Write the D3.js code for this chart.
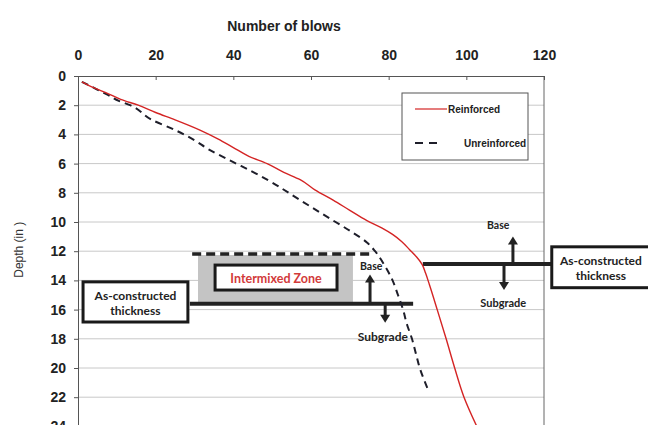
<!DOCTYPE html>
<html>
<head>
<meta charset="utf-8">
<script src="https://cdn.jsdelivr.net/npm/d3@7"></script>
<style>
  body { margin: 0; background: #fff; }
  svg { display: block; }
</style>
</head>
<body>
<div id="content"></div>
<script>
// Data (blows vs depth in inches)
const reinforcedBlows = [1, 4, 7.7, 11, 15.5, 20, 25, 31.4, 36, 40, 44, 48.7, 53, 57.2, 61, 65.7, 70, 74.4, 78.2, 81, 83.4, 85.4, 87.2, 88.6, 89.5, 90.5, 92.5, 94.8, 97, 99.4, 102.7];
const reinforcedDepth = [0.4, 0.8, 1.2, 1.6, 2.0, 2.5, 3.0, 3.7, 4.3, 4.9, 5.5, 6.0, 6.6, 7.1, 7.8, 8.5, 9.2, 9.9, 10.4, 10.85, 11.35, 11.9, 12.4, 12.9, 13.5, 14.3, 16, 18, 20, 22, 24];

const unreinforcedBlows = [1, 4, 7.7, 10.5, 13.4, 19, 25, 30, 33.5, 40, 44.5, 48.7, 57.2, 65.7, 70, 74.4, 76.5, 79, 81, 82.4, 83.7, 84.7, 86, 87, 88, 89.4, 90];
const unreinforcedDepth = [0.4, 0.8, 1.3, 1.7, 2.0, 3.0, 3.7, 4.4, 5.0, 5.9, 6.5, 7.1, 8.5, 9.9, 10.6, 11.4, 12.0, 13.0, 14.0, 15.0, 16.0, 17.0, 18.0, 19.0, 20.0, 21.0, 21.4];

const xTicks = [0, 20, 40, 60, 80, 100, 120];
const yTicks = [0, 2, 4, 6, 8, 10, 12, 14, 16, 18, 20, 22, 24];

const legendLabels = ['Reinforced', 'Unreinforced'];

document.addEventListener('DOMContentLoaded', () => {
    drawChart();
});

const drawChart = () => {
    const width = 648;
    const height = 425;
    const left = 78, right = 544, top = 76, bottom = 426.4;

    const xScale = d3.scaleLinear().domain([0, 120]).range([left, right]);
    const yScale = d3.scaleLinear().domain([0, 24]).range([top, bottom]);

    const svg = d3.select('#content')
        .append('svg')
        .attr('width', width)
        .attr('height', height)
        .style('font-family', '"Liberation Sans", Arial, sans-serif');

    // Gridlines
    svg.append('g')
        .selectAll('line')
        .data(yTicks.slice(1))
        .enter()
        .append('line')
        .attr('x1', left)
        .attr('x2', right)
        .attr('y1', d => yScale(d))
        .attr('y2', d => yScale(d))
        .attr('stroke', '#c8c8c8')
        .attr('stroke-width', 1);

    // Right border
    svg.append('line')
        .attr('x1', right).attr('x2', right)
        .attr('y1', top).attr('y2', height)
        .attr('stroke', '#666')
        .attr('stroke-width', 1);

    // Top axis
    const xAxis = d3.axisTop(xScale).tickValues(xTicks).tickSize(-4).tickPadding(16);
    const gx = svg.append('g')
        .attr('transform', `translate(0, ${top})`)
        .call(xAxis);
    gx.select('.domain').attr('stroke', '#555');
    gx.selectAll('.tick line').attr('stroke', '#555');
    gx.selectAll('.tick text')
        .attr('fill', '#222')
        .style('font-family', '"Liberation Sans Narrow", "Liberation Sans", sans-serif')
        .style('font-size', '14px')
        .style('font-weight', 'bold');

    // Left axis
    const yAxis = d3.axisLeft(yScale).tickValues(yTicks).tickSize(4).tickPadding(8);
    const gy = svg.append('g')
        .attr('transform', `translate(${left}, 0)`)
        .call(yAxis);
    gy.select('.domain').attr('stroke', '#555');
    gy.selectAll('.tick line').attr('stroke', '#555');
    gy.selectAll('.tick text')
        .attr('fill', '#222')
        .style('font-size', '14px')
        .style('font-weight', 'bold');

    // Axis titles
    svg.append('text')
        .attr('x', 284)
        .attr('y', 31)
        .attr('text-anchor', 'middle')
        .attr('fill', '#222')
        .style('font-family', '"Liberation Sans Narrow", "Liberation Sans", sans-serif')
        .style('font-size', '14px')
        .style('font-weight', 'bold')
        .text('Number of blows');

    svg.append('text')
        .attr('transform', `translate(23, ${yScale(11.9)}) rotate(-90)`)
        .attr('text-anchor', 'middle')
        .attr('fill', '#333')
        .style('font-size', '12px')
        .text('Depth (in )');

    // Annotation: left side (unreinforced)
    const ann = svg.append('g');

    ann.append('rect')
        .attr('x', xScale(30.9)).attr('y', yScale(12.26))
        .attr('width', xScale(70.8) - xScale(30.9))
        .attr('height', yScale(15.48) - yScale(12.26))
        .attr('fill', '#c4c4c4');

    ann.append('line')
        .attr('x1', xScale(29.4)).attr('x2', xScale(75.7))
        .attr('y1', yScale(12.2)).attr('y2', yScale(12.2))
        .attr('stroke', '#222')
        .attr('stroke-width', 3.5)
        .attr('stroke-dasharray', '9,5');

    ann.append('rect')
        .attr('x', xScale(35.3)).attr('y', yScale(12.95))
        .attr('width', xScale(66.7) - xScale(35.3))
        .attr('height', yScale(14.66) - yScale(12.95))
        .attr('fill', '#fff')
        .attr('stroke', '#1a1a1a')
        .attr('stroke-width', 3);

    ann.append('text')
        .attr('x', xScale(51))
        .attr('y', yScale(14.2))
        .attr('text-anchor', 'middle')
        .attr('fill', '#d23a3a')
        .style('font-family', 'Lato, sans-serif')
        .style('font-size', '12.5px')
        .style('font-weight', 'bold')
        .text('Intermixed Zone');

    // Curves
    const line = d3.line()
        .x(d => xScale(d[0]))
        .y(d => yScale(d[1]))
        .curve(d3.curveMonotoneY);

    svg.append('path')
        .datum(unreinforcedBlows.map((b, i) => [b, unreinforcedDepth[i]]))
        .attr('d', line)
        .attr('fill', 'none')
        .attr('stroke', '#1e1e2a')
        .attr('stroke-width', 2)
        .attr('stroke-dasharray', '7,5');

    svg.append('path')
        .datum(reinforcedBlows.map((b, i) => [b, reinforcedDepth[i]]))
        .attr('d', line)
        .attr('fill', 'none')
        .attr('stroke', '#d42424')
        .attr('stroke-width', 1.4);

    // Thickness lines
    ann.append('line')
        .attr('x1', xScale(28.8)).attr('x2', xScale(86.3))
        .attr('y1', yScale(15.6)).attr('y2', yScale(15.6))
        .attr('stroke', '#222')
        .attr('stroke-width', 4);

    ann.append('line')
        .attr('x1', xScale(88.8)).attr('x2', xScale(122))
        .attr('y1', yScale(12.88)).attr('y2', yScale(12.88))
        .attr('stroke', '#222')
        .attr('stroke-width', 4);

    // Boxes with "As-constructed thickness"
    const addBox = (b0, b1, d0, d1) => {
        const g = ann.append('g');
        g.append('rect')
            .attr('x', xScale(b0)).attr('y', yScale(d0))
            .attr('width', xScale(b1) - xScale(b0))
            .attr('height', yScale(d1) - yScale(d0))
            .attr('fill', '#fff')
            .attr('stroke', '#1a1a1a')
            .attr('stroke-width', 3);
        const cx = (xScale(b0) + Math.min(xScale(b1), 648 + 2)) / 2;
        const cy = (yScale(d0) + yScale(d1)) / 2;
        g.append('text')
            .attr('x', cx).attr('y', cy - 2)
            .attr('text-anchor', 'middle')
            .attr('fill', '#222')
            .style('font-family', 'Lato, sans-serif')
            .style('font-size', '12px')
            .style('font-weight', 'bold')
            .text('As-constructed');
        g.append('text')
            .attr('x', cx).attr('y', cy + 13)
            .attr('text-anchor', 'middle')
            .attr('fill', '#222')
            .style('font-family', 'Lato, sans-serif')
            .style('font-size', '12px')
            .style('font-weight', 'bold')
            .text('thickness');
    };
    addBox(1.3, 28.3, 14.1, 16.85);
    addBox(122, 148, 11.7, 14.5);

    // Arrows
    const arrow = (b, d0, d1) => {
        const x = xScale(b), y0 = yScale(d0), y1 = yScale(d1);
        const dir = y1 < y0 ? 1 : -1;
        ann.append('line')
            .attr('x1', x).attr('x2', x)
            .attr('y1', y0).attr('y2', y1 + dir * 6)
            .attr('stroke', '#222')
            .attr('stroke-width', 3);
        ann.append('path')
            .attr('d', `M${x - 5},${y1 + dir * 8}L${x + 5},${y1 + dir * 8}L${x},${y1}Z`)
            .attr('fill', '#222');
    };
    arrow(75.2, 15.6, 13.6);
    arrow(79.1, 15.6, 16.9);
    arrow(112, 12.88, 11.0);
    arrow(109.7, 12.88, 14.65);

    const label = (txt, b, d, size) => {
        ann.append('text')
            .attr('x', xScale(b)).attr('y', yScale(d))
            .attr('text-anchor', 'middle')
            .attr('fill', '#222')
            .style('font-family', 'Lato, sans-serif')
            .style('font-size', size + 'px')
            .style('font-weight', 'bold')
            .text(txt);
    };
    label('Base', 75.5, 13.3, 10.5);
    label('Subgrade', 78.5, 18.15, 12);
    label('Base', 108.2, 10.5, 10.5);
    label('Subgrade', 109.5, 15.8, 11);

    // Legend
    const legend = svg.append('g');
    legend.append('rect')
        .attr('x', 402).attr('y', 93)
        .attr('width', 126).attr('height', 67)
        .attr('fill', '#fff')
        .attr('stroke', '#555')
        .attr('stroke-width', 1);
    legend.append('line')
        .attr('x1', 415).attr('x2', 447)
        .attr('y1', 109).attr('y2', 109)
        .attr('stroke', '#d42424')
        .attr('stroke-width', 1.2);
    legend.append('line')
        .attr('x1', 415).attr('x2', 440)
        .attr('y1', 143).attr('y2', 143)
        .attr('stroke', '#1e1e2a')
        .attr('stroke-width', 2)
        .attr('stroke-dasharray', '8,6');
    legend.selectAll('text')
        .data(legendLabels)
        .enter()
        .append('text')
        .attr('x', (d, i) => i === 0 ? 448 : 464)
        .attr('y', (d, i) => i === 0 ? 113 : 147)
        .attr('fill', '#222')
        .style('font-size', '10px')
        .style('font-weight', 'bold')
        .text(d => d);
}
</script>
</body>
</html>
